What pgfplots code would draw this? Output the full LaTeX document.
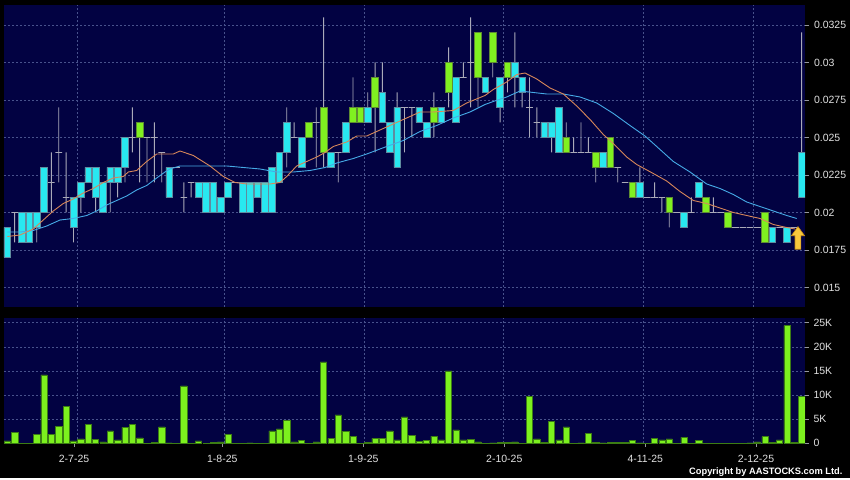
\documentclass[border=0pt]{standalone}
\usepackage{fontspec}
\setmainfont{Liberation Sans}
\usepackage{pgfplots}
\pgfplotsset{compat=1.18}
\usepackage{pgfplotstable}

\definecolor{navy}{RGB}{2,2,66}
\definecolor{gridc}{RGB}{72,82,140}
\definecolor{tickc}{RGB}{150,150,160}
\definecolor{labc}{RGB}{225,225,225}
\definecolor{cyanf}{RGB}{40,232,240}
\definecolor{cyand}{RGB}{95,140,160}
\definecolor{greenf}{RGB}{128,240,32}
\definecolor{greend}{RGB}{95,140,50}
\definecolor{wickc}{RGB}{170,170,185}
\definecolor{mabr}{RGB}{215,135,90}
\definecolor{mabl}{RGB}{70,170,230}
\definecolor{volf}{RGB}{124,240,30}
\definecolor{vold}{RGB}{60,125,20}
\definecolor{goldf}{RGB}{248,200,60}
\definecolor{goldd}{RGB}{200,140,20}

% cyan candle bodies: x, bottom, height
\pgfplotstableread{
x b h
1 0.017 0.002
3 0.018 0.002
4 0.018 0.002
5 0.019 0.001
6 0.020 0.003
10 0.019 0.002
11 0.021 0.001
12 0.022 0.001
13 0.021 0.002
14 0.020 0.002
15 0.022 0.001
16 0.022 0.001
17 0.023 0.002
23 0.021 0.002
27 0.021 0.001
28 0.020 0.002
29 0.020 0.002
30 0.020 0.001
31 0.021 0.001
33 0.020 0.002
34 0.020 0.002
35 0.021 0.001
36 0.020 0.002
37 0.020 0.003
38 0.022 0.002
39 0.024 0.002
41 0.023 0.002
45 0.023 0.001
47 0.024 0.002
50 0.026 0.001
52 0.026 0.002
53 0.024 0.002
54 0.023 0.004
57 0.026 0.001
58 0.025 0.001
60 0.026 0.001
62 0.026 0.003
66 0.028 0.001
68 0.027 0.002
70 0.029 0.001
71 0.028 0.001
74 0.025 0.001
75 0.025 0.001
76 0.024 0.003
82 0.023 0.001
87 0.021 0.001
93 0.019 0.001
95 0.021 0.001
105 0.018 0.001
107 0.018 0.001
109 0.021 0.003
}\cyanb

% green candle bodies
\pgfplotstableread{
x b h
19 0.025 0.001
42 0.025 0.001
44 0.024 0.003
48 0.026 0.001
49 0.026 0.001
51 0.027 0.002
59 0.026 0.001
61 0.028 0.002
65 0.029 0.003
67 0.030 0.002
69 0.029 0.001
77 0.024 0.001
81 0.023 0.001
83 0.023 0.002
86 0.021 0.001
91 0.020 0.001
96 0.020 0.001
99 0.019 0.001
104 0.018 0.002
}\greenb

% doji levels (open = close)
\pgfplotstableread{
x v
2 0.020
7 0.022
8 0.024
9 0.021
18 0.025
20 0.025
21 0.025
22 0.024
24 0.023
25 0.021
26 0.022
32 0.022
40 0.025
43 0.026
46 0.024
55 0.027
56 0.027
63 0.029
64 0.030
72 0.027
73 0.026
78 0.024
79 0.024
80 0.024
84 0.023
85 0.022
88 0.021
89 0.021
90 0.021
92 0.020
94 0.020
97 0.020
98 0.020
100 0.019
101 0.019
102 0.019
103 0.019
106 0.019
108 0.019
}\dojis

% wicks: low, high
\pgfplotstableread{
x l h
2 0.018 0.020
5 0.018 0.020
7 0.020 0.024
8 0.022 0.027
9 0.020 0.024
10 0.018 0.021
11 0.020 0.022
13 0.020 0.023
15 0.020 0.023
16 0.021 0.023
17 0.022 0.025
18 0.024 0.027
19 0.022 0.026
20 0.022 0.025
21 0.022 0.026
22 0.022 0.024
25 0.020 0.022
26 0.021 0.022
39 0.023 0.027
40 0.025 0.026
43 0.023 0.027
44 0.023 0.033
46 0.022 0.024
48 0.026 0.029
50 0.026 0.028
51 0.024 0.030
52 0.026 0.030
54 0.023 0.028
55 0.024 0.027
56 0.025 0.027
59 0.025 0.028
61 0.027 0.031
63 0.029 0.030
64 0.027 0.033
65 0.027 0.032
67 0.029 0.032
68 0.026 0.029
69 0.028 0.030
70 0.027 0.032
71 0.027 0.029
72 0.025 0.029
73 0.025 0.027
75 0.024 0.026
77 0.024 0.026
78 0.024 0.025
79 0.024 0.026
80 0.024 0.025
81 0.022 0.024
84 0.022 0.023
87 0.021 0.023
89 0.021 0.022
90 0.020 0.021
91 0.019 0.021
94 0.020 0.021
97 0.020 0.021
109 0.021 0.032
}\wicks

% short moving average
\pgfplotstableread{
x v
1 0.0184
2.73 0.0185
4.54 0.0189
5.89 0.0195
7.25 0.0201
8.61 0.0206
9.97 0.0209
11.33 0.0213
12.69 0.0216
14.05 0.0220
15.41 0.0223
16.77 0.0224
17.45 0.0227
18.59 0.0228
19.95 0.0234
21.31 0.0239
22.44 0.0239
23.57 0.0239
24.48 0.0241
26.29 0.0238
28.56 0.0231
30.37 0.0224
31.96 0.0220
33.55 0.0219
35.36 0.0219
36.72 0.0219
38.08 0.0220
38.99 0.0224
40.35 0.0231
41.71 0.0234
43.07 0.0237
44.2 0.0240
45.32 0.0244
47.15 0.0247
48.51 0.0251
49.87 0.0251
51.67 0.0255
53.48 0.0259
55.3 0.0263
57.11 0.0267
58.92 0.0267
61.64 0.0268
63.46 0.0273
65.95 0.0278
67.08 0.0282
68.9 0.0287
70.26 0.0292
71.39 0.0293
72.98 0.0289
74.79 0.0283
76.6 0.0279
78.42 0.0271
80.23 0.0262
82.03 0.0252
83.39 0.0246
85.21 0.0237
86.57 0.0232
87.7 0.0229
88.83 0.0226
90.65 0.0221
92.46 0.0214
94.27 0.0208
96.09 0.0206
97.9 0.0203
99.71 0.0200
101.53 0.0198
103.34 0.0196
105.15 0.0192
106.97 0.0190
108.1 0.0189
}\mabrown

% long moving average
\pgfplotstableread{
x v
1 0.0187
2.73 0.0187
4.54 0.0188
6.36 0.0191
8.17 0.0195
9.97 0.0196
11.8 0.0198
13.15 0.0201
14.51 0.0205
15.87 0.0208
17.23 0.0211
18.59 0.0215
19.95 0.0218
21.31 0.0223
22.44 0.0227
23.12 0.0229
24.48 0.0231
26.29 0.0231
28.56 0.0231
30.83 0.0231
33.09 0.0230
35.36 0.0229
37.63 0.0227
39.89 0.0227
42.16 0.0228
44.2 0.0230
45.79 0.0233
48.05 0.0236
49.87 0.0239
52.58 0.0244
54.84 0.0248
57.11 0.0254
59.38 0.0258
61.64 0.0263
63.91 0.0267
65.95 0.0272
67.08 0.0274
68.9 0.0277
70.71 0.0281
72.52 0.0280
74.34 0.0279
76.6 0.0279
78.87 0.0277
81.14 0.0273
83.4 0.0266
85.66 0.0258
87.7 0.0251
89.29 0.0244
91.55 0.0234
93.82 0.0227
96.09 0.0219
97.9 0.0216
99.71 0.0212
101.53 0.0207
103.34 0.0204
105.15 0.0201
106.97 0.0198
108.33 0.0196
}\mablue

% volume in thousands
\pgfplotstableread{
x v
1 0.5
2 2.3
3 0.05
4 0.05
5 1.9
6 14.2
7 1.9
8 3.5
9 7.7
10 0.5
11 0.9
12 3.9
13 0.8
14 0.3
15 2.6
16 0.7
17 3.3
18 3.9
19 1.1
20 0.05
21 0.2
22 3.4
23 0.1
24 0.05
25 11.9
26 0.05
27 0.5
28 0.05
29 0.2
30 0.3
31 1.9
32 0.05
33 0.05
34 0.1
35 0.05
36 0.05
37 2.6
38 3.0
39 4.8
40 0.3
41 0.55
42 0.05
43 0.3
44 16.9
45 1.0
46 5.9
47 2.4
48 1.4
49 0.05
50 0.2
51 1.0
52 1.0
53 2.6
54 0.7
55 5.5
56 1.7
57 0.4
58 0.55
59 1.5
60 0.7
61 15.0
62 2.8
63 0.7
64 0.8
65 0.3
66 0.05
67 0.1
68 0.2
69 0.2
70 0.3
71 0.05
72 9.7
73 0.9
74 0.2
75 4.6
76 0.7
77 3.4
78 0.05
79 0.1
80 2.1
81 0.2
82 0.1
83 0.15
84 0.15
85 0.2
86 0.55
87 0.1
88 0.05
89 1.0
90 0.7
91 0.9
92 0.05
93 1.25
94 0.05
95 0.6
96 0.05
97 0.05
98 0.05
99 0.05
100 0.05
101 0.05
102 0.1
103 0.3
104 1.4
105 0.2
106 0.7
107 24.4
108 0.2
109 9.7
}\vol

\pgfplotsset{
  upper/.style={scale only axis, width=801pt, height=301.5pt,
    at={(4pt,171.5pt)}, anchor=south west,
    xmin=0.5513, xmax=109.457, ymin=0.013733, ymax=0.033833},
  lblfont/.style={font=\fontsize{10.5}{12}\selectfont, text=labc},
}

\begin{document}
\begin{tikzpicture}
\fill[black] (0pt,0pt) rectangle (850pt,478pt);

% ---------- price panel: background and grid
\begin{axis}[upper,
  axis background/.style={fill=navy},
  axis line style={draw=none},
  xtick={10.57,30.50,49.54,68.44,87.47,102.43}, xticklabels={},
  xtick style={draw=none},
  ytick={0.015,0.0175,0.02,0.0225,0.025,0.0275,0.03,0.0325},
  yticklabels={0.015,0.0175,0.02,0.0225,0.025,0.0275,0.03,0.0325},
  scaled y ticks=false,
  ytick pos=right, yticklabel pos=right,
  tick align=outside, major tick length=4pt,
  ytick style={draw=tickc, line width=0.6pt},
  grid=major,
  major grid style={gridc, dash pattern=on 2pt off 2pt, line width=0.6pt},
  yticklabel style={lblfont, xshift=1.5pt},
]
\end{axis}

% ---------- wicks (low to high)
\begin{axis}[upper, hide axis, ybar stacked, bar width=0.9pt]
\addplot[draw=none, fill=none] table[x=x, y=l] {\wicks};
\addplot[fill=wickc, draw=none] table[x=x, y expr=\thisrow{h}-\thisrow{l}] {\wicks};
\end{axis}

% ---------- doji bars (open = close)
\begin{axis}[upper, hide axis, ybar stacked, bar width=0.9]
\addplot[draw=none, fill=none] table[x=x, y expr=\thisrow{v}-0.00003] {\dojis};
\addplot[fill=wickc, draw=none] table[x=x, y expr=0.00006] {\dojis};
\end{axis}

% ---------- cyan bodies
\begin{axis}[upper, hide axis, ybar stacked, bar width=0.9]
\addplot[draw=none, fill=none] table[x=x, y=b] {\cyanb};
\addplot[fill=cyanf, draw=cyand, line width=0.6pt] table[x=x, y=h] {\cyanb};
\end{axis}

% ---------- green bodies
\begin{axis}[upper, hide axis, ybar stacked, bar width=0.9]
\addplot[draw=none, fill=none] table[x=x, y=b] {\greenb};
\addplot[fill=greenf, draw=greend, line width=0.6pt] table[x=x, y=h] {\greenb};
\end{axis}

% ---------- moving averages and marker arrow
\begin{axis}[upper, hide axis]
\addplot[mabl, line width=0.9pt] table[x=x, y=v] {\mablue};
\addplot[mabr, line width=0.9pt] table[x=x, y=v] {\mabrown};
\addplot[fill=goldf, draw=goldd, line width=0.6pt] coordinates {
  (108.5,0.01906) (109.4,0.01845) (108.9,0.01845) (108.9,0.01755)
  (108.1,0.01755) (108.1,0.01845) (107.6,0.01845) (108.5,0.01906)};
\end{axis}

% ---------- volume panel
\begin{axis}[scale only axis, width=801pt, height=125.3pt,
  at={(4pt,34.7pt)}, anchor=south west,
  xmin=0.5513, xmax=109.457, ymin=0, ymax=25.97,
  axis background/.style={fill=navy},
  axis line style={draw=none},
  ytick={0,5,10,15,20,25}, yticklabels={0,5K,10K,15K,20K,25K},
  ytick pos=right, yticklabel pos=right,
  xtick={10.07,30.23,49.40,68.57,87.74,102.8},
  xticklabels={2-7-25,1-8-25,1-9-25,2-10-25,4-11-25,2-12-25},
  xtick pos=left,
  tick align=outside, major tick length=3.5pt,
  tick style={draw=tickc, line width=0.6pt},
  ymajorgrids=true, xmajorgrids=false,
  extra x ticks={10.57,30.50,49.54,68.44,87.47,102.43},
  extra x tick labels={},
  extra x tick style={grid=major, major tick length=0pt},
  major grid style={gridc, dash pattern=on 2pt off 2pt, line width=0.6pt},
  tick label style={lblfont},
  yticklabel style={xshift=1.5pt},
  xticklabel style={yshift=-5pt},
]
\addplot[ybar, bar width=0.85, fill=volf, draw=vold, line width=0.5pt]
  table[x=x, y=v] {\vol};
\end{axis}

\node[anchor=east, text=white, font=\fontsize{9.3}{10}\selectfont\bfseries]
  at (846pt,6.3pt) {Copyright by AASTOCKS.com Ltd.};
\end{tikzpicture}
\end{document}
